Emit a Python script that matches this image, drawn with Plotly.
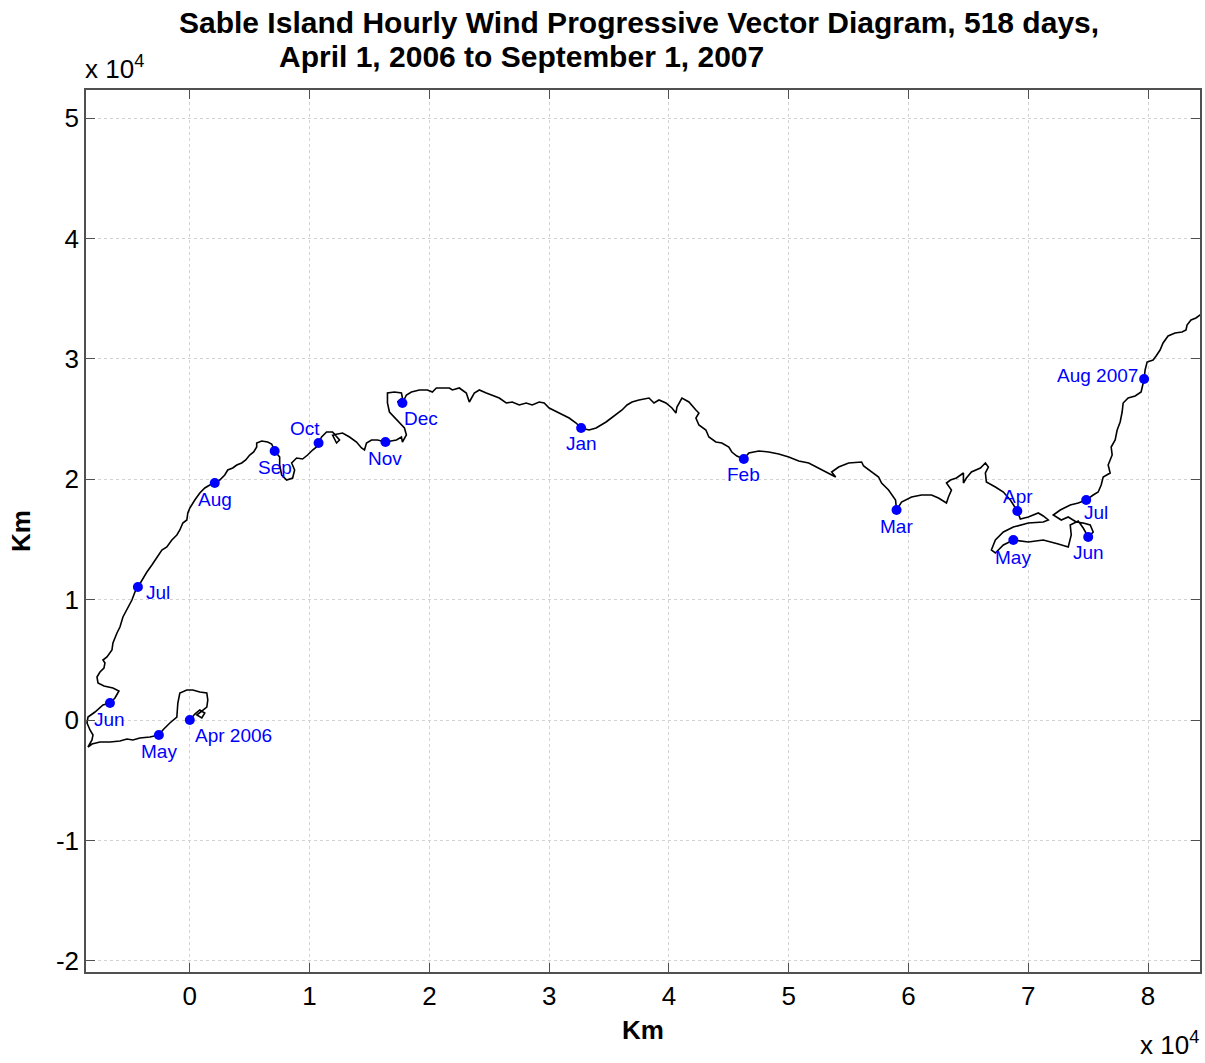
import plotly.graph_objects as go

# Progressive vector path of hourly wind at Sable Island (km east, km north)
path_x = [
    0, 417, 833, 1250, 1000, 583, 1417, 1500, 1417, 833, 250, -250, -833, -1000, -1083, -1667, -2250, -2583,
    -3333, -4167, -4750, -5250, -5833, -6667, -7500, -8167, -8500, -8167, -8083, -8333, -8583, -8500, -7917,
    -7500, -7250, -6667, -6250, -5917, -6417, -7167, -7667, -7750, -7500, -7167, -7083, -7250, -6917, -6500,
    -6417, -6083, -5833, -5583, -5250, -4833, -4583, -4333,
    -4000, -3583, -3167, -2750, -2333, -1917, -1500, -1083, -833, -583, -250, -167, 0, 417, 833, 1250, 1667, 2083,
    2500, 2917, 3167, 3583, 3917, 4333, 4667, 5000, 5333, 5583, 5583, 6000, 6500, 6833, 7083,
    7500, 7500, 7667, 8083, 8583, 8750, 8500, 8917, 9417, 9833, 10250, 10583, 10750,
    11000, 11417, 11917, 12500, 12250, 11917, 12750, 13333, 13917, 14333, 14583, 14750, 15167, 15667, 16333,
    17250, 17667, 17750, 18083, 17917, 17500, 17083, 16667, 16500, 16500, 17083, 17667, 17750, 17333, 17750,
    18083, 18500, 19167, 19833, 20250, 20583, 21083, 21667, 21917, 22500, 23083, 23333, 23750, 24167, 24750,
    25250, 25833, 26417, 26917, 27500, 28083, 28583, 29167, 29583, 30000, 30833, 31667, 32250, 32667,
    33333, 33917, 34750, 35583, 36083, 36500, 36917, 37500, 38333, 38750, 39167, 39750, 40250, 40583, 40667,
    41083, 41667, 42250, 42500, 42250, 42500, 43083, 43333, 43917, 44417, 45000, 45250, 45667, 46250,
    46667, 47500, 48333, 49167, 50000, 50833, 51667, 52500, 53333, 53917, 53583, 54167, 55000, 56083, 56250,
    56917, 57500, 57750, 58333, 58917, 59000,
    59417, 60250, 61083, 61917, 62500, 63167, 63333, 63583, 63167, 63500, 64000, 64583, 64583, 64833, 65250,
    66000, 66417, 66667, 66417, 66500, 67250, 67917, 68500, 68917, 69083,
    69333, 70000, 70833, 71250, 71667, 71250, 70000, 68750, 67917, 67250, 66917, 67250, 67917, 68750,
    70000, 71250, 72500, 73333, 73583, 73500, 74167, 74583, 75000,
    75417, 75167, 74583, 74000, 73333, 72750, 72083, 72667, 73500, 74167, 74833,
    75417, 75833, 76083, 76250, 76833, 76667, 77000, 76917, 77250, 77417, 77667, 77833, 77917, 78333, 78917,
    79417, 79667, 79750, 79917, 80417, 80667, 81000, 81250, 81667, 82250, 82833, 83167, 83250, 83583, 84000, 84667,
]
path_y = [
    0, 498, 831, 581, 166, 415, 1080, 1661, 2243, 2326, 2492, 2492, 2243, 1412, 249, -249, -831, -1246,
    -1412, -1495, -1661, -1578, -1744, -1827, -1827, -1993, -2243, -1661, -1246, -831, -249, 249, 664,
    1080, 1246, 1412, 1827, 2409, 2658, 2824, 3073, 3572, 3987, 4319, 4734, 4984, 5233, 5814,
    6396, 7226, 7725, 8555, 9137, 9967, 10632, 11047,
    11628, 12293, 12874, 13539, 14120, 14369, 14951, 15366, 15781, 16363, 16612, 17193, 17609, 18273, 18855,
    19270, 19519, 19685,
    19934, 20350, 20765, 20931, 21180, 21346, 21596, 22011, 22260, 22675, 23008, 23174, 23091, 22925, 22343,
    21845, 21180, 20350, 19934, 20100, 20765, 21346, 21762, 21679, 22011, 22426, 22675, 23008,
    23506, 23921, 23921, 23257, 23008, 23672, 23838, 23506, 23091, 22592, 22426, 23008, 23257, 23257, 23091,
    23257, 23506, 23091, 23672, 24254, 24669, 25084, 25582, 26330, 27161, 27244, 27161, 26745, 26413, 26330,
    26995, 27244, 27410, 27410, 27244, 27576, 27576, 27576, 27410, 27576, 27161, 26413, 27161, 27410, 27161,
    26995, 26745, 26330, 26413, 26164, 26330, 26164, 26413, 26330, 25915, 25499, 25084, 24669, 24254,
    24087, 24254, 24752, 25333, 25749, 26164, 26413, 26579, 26745, 26330, 26579, 26330, 25915, 25499, 25998,
    26745, 26413, 25749, 25499, 25084, 24503, 24087, 23506, 23091, 23008, 22675, 22260, 21928, 21679,
    22177, 22343, 22260, 22094, 21845, 21513, 21346, 20931, 20516, 20184, 20599, 21014, 21346, 21430, 21097,
    20599, 20184, 19685, 19104, 18273, 17443,
    18107, 18522, 18689, 18689, 18439, 18024, 18522, 19104, 19685, 19934, 20100, 20516, 19685, 20100, 20599,
    20931, 21346, 21014, 20516, 19768, 19353, 18938, 18273, 17692, 17360,
    16695, 16861, 17193, 16944, 16612, 16446, 16363, 16030, 15615, 14951, 14120, 13871, 14535, 14951,
    14785, 14951, 14619, 14369, 15366, 16197, 16529, 15947, 15200,
    15615, 16197, 16363, 16446, 16861, 16612, 17027, 17443, 17858, 18024, 18273,
    18689, 18938, 19519, 20184, 20516, 21180, 22011, 22675, 23257, 24087, 24752, 25582, 26330, 26745, 26911,
    27244, 28323, 29071, 29735, 29902, 30234, 30732, 31314, 31895, 32144, 32227, 32393, 32809, 33224, 33390, 33889,
]

# Position at the first of each month
month_labels = ["Apr 2006", "May", "Jun", "Jul", "Aug", "Sep", "Oct", "Nov", "Dec",
                "Jan", "Feb", "Mar", "Apr", "May", "Jun", "Jul", "Aug 2007"]
month_x = [0, -2583, -6667, -4333, 2083, 7083, 10750, 16333, 17750,
           32667, 46250, 59000, 69083, 68750, 75000, 74833, 79667]
month_y = [0, -1246, 1412, 11047, 19685, 22343, 23008, 23091, 26330,
           24254, 21679, 17443, 17360, 14951, 15200, 18273, 28323]

x_ticks = [0, 10000, 20000, 30000, 40000, 50000, 60000, 70000, 80000]
x_tick_text = ["0", "1", "2", "3", "4", "5", "6", "7", "8"]
y_ticks = [-20000, -10000, 0, 10000, 20000, 30000, 40000, 50000]
y_tick_text = ["-2", "-1", "0", "1", "2", "3", "4", "5"]

FONT = "Liberation Sans, Arial, Helvetica, sans-serif"
BLUE = "#0000ff"

fig = go.Figure()
fig.add_trace(go.Scatter(x=path_x, y=path_y, mode="lines",
                         line=dict(color="black", width=1.6), hoverinfo="skip"))
fig.add_trace(go.Scatter(x=month_x, y=month_y, mode="markers",
                         marker=dict(color=BLUE, size=10), hoverinfo="skip"))

# label offsets (xanchor, xshift, yshift) per month marker
label_place = [
    ("left", 3, -15), ("center", 0, -16), ("center", 0, -16), ("left", 6, -5),
    ("center", 0, -16), ("center", 0, -16), ("center", -14, 15), ("center", 0, -16),
    ("left", 0, -15), ("center", 0, -15), ("center", 0, -15), ("center", 0, -16),
    ("center", 1, 15), ("center", 0, -17), ("center", 0, -15), ("center", 10, -12),
    ("right", -4, 4),
]
for lab, mx, my, (xa, xs, ys) in zip(month_labels, month_x, month_y, label_place):
    fig.add_annotation(x=mx, y=my, text=lab, showarrow=False, xanchor=xa, yanchor="middle",
                       xshift=xs, yshift=ys, font=dict(family=FONT, size=19, color=BLUE))

# two-line title, second line indented
fig.add_annotation(xref="paper", yref="paper", x=(177 - 86) / 1116, y=1 + (90 - 23) / 882,
                   text="<b>Sable Island Hourly Wind Progressive Vector Diagram, 518 days,</b>",
                   showarrow=False, xanchor="left", yanchor="middle",
                   font=dict(family=FONT, size=30, color="black"))
fig.add_annotation(xref="paper", yref="paper", x=(277 - 86) / 1116, y=1 + (90 - 56) / 882,
                   text="<b>April 1, 2006 to September 1, 2007</b>",
                   showarrow=False, xanchor="left", yanchor="middle",
                   font=dict(family=FONT, size=30, color="black"))

# exponent markers
fig.add_annotation(xref="paper", yref="paper", x=(83 - 86) / 1116, y=1 + (90 - 68) / 882,
                   text="x 10<sup>4</sup>", showarrow=False, xanchor="left", yanchor="middle",
                   font=dict(family=FONT, size=26, color="black"))
fig.add_annotation(xref="paper", yref="paper", x=(1203 - 86) / 1116, y=-(1043 - 972) / 882,
                   text="x 10<sup>4</sup>", showarrow=False, xanchor="right", yanchor="middle",
                   font=dict(family=FONT, size=26, color="black"))

axis_common = dict(showline=True, linecolor="#505050", linewidth=1.5, mirror="ticks",
                   ticks="inside", ticklen=9, tickwidth=1, tickcolor="#505050",
                   showgrid=True, gridcolor="#d2d2d2", griddash="dot", gridwidth=1,
                   zeroline=False, tickfont=dict(family=FONT, size=26, color="black"))

fig.update_xaxes(range=[-8667, 84333], tickvals=x_ticks, ticktext=x_tick_text,
                 title=dict(text="<b>Km</b>", font=dict(family=FONT, size=26, color="black"), standoff=11),
                 **axis_common)
fig.update_yaxes(range=[-20931, 52328], tickvals=y_ticks, ticktext=y_tick_text,
                 title=dict(text="<b>Km</b>", font=dict(family=FONT, size=26, color="black"), standoff=18),
                 **axis_common)

fig.update_layout(width=1205, height=1063, margin=dict(l=86, r=3, t=90, b=91),
                  plot_bgcolor="white", paper_bgcolor="white", showlegend=False)

fig.write_html("out.html")
